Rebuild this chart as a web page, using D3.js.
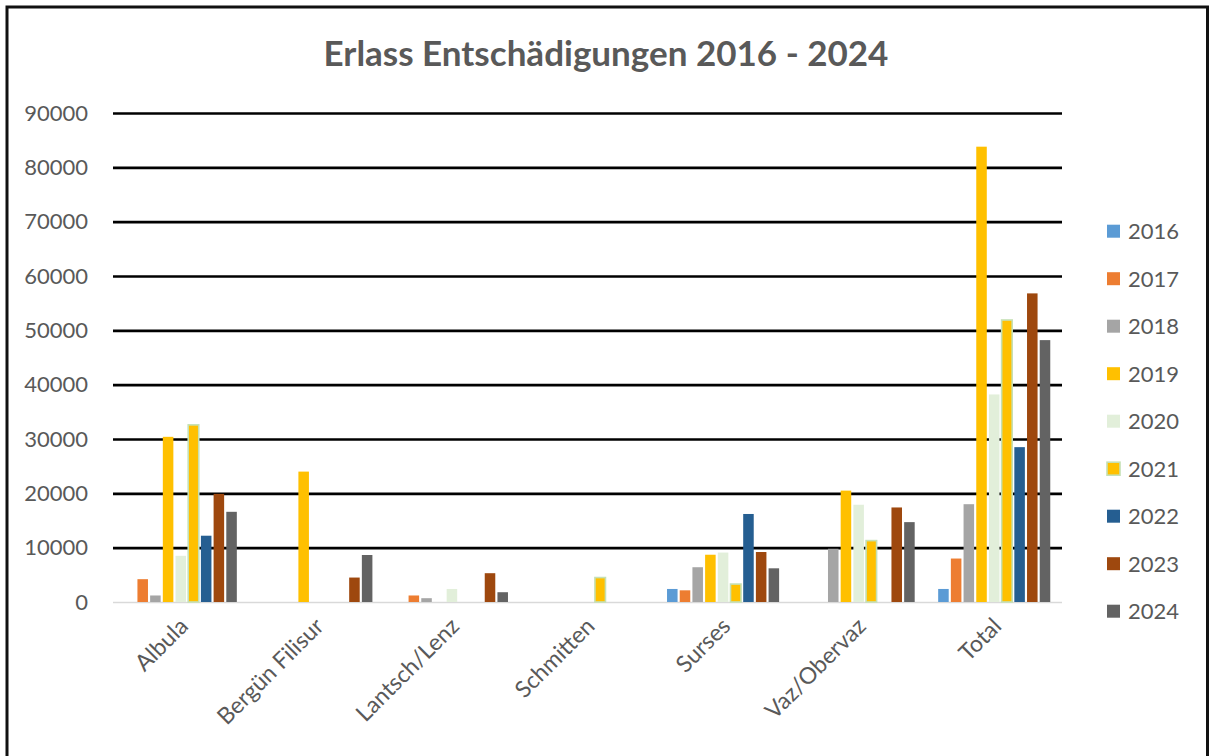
<!DOCTYPE html>
<html>
<head>
<meta charset="utf-8">
<script src="https://cdn.jsdelivr.net/npm/d3@7"></script>
<style>
  body { margin: 0; background: #fff; }
  svg { display: block; font-family: Lato, "Open Sans", sans-serif; }
</style>
</head>
<body>
<svg width="1212" height="756"></svg>
<script>
document.addEventListener("DOMContentLoaded", function() {

    var width = 1212;
    var height = 756;

    // categories on the x axis
    var categories = ["Albula", "Bergün Filisur", "Lantsch/Lenz", "Schmitten", "Surses", "Vaz/Obervaz", "Total"];

    var years = ["2016", "2017", "2018", "2019", "2020", "2021", "2022", "2023", "2024"];

    // one value per category
    var v2016 = [0, 0, 0, 0, 2400, 0, 2400];
    var v2017 = [4200, 0, 1200, 0, 2150, 0, 8000];
    var v2018 = [1200, 0, 700, 0, 6400, 9800, 18000];
    var v2019 = [30400, 24000, 0, 0, 8700, 20500, 83800];
    var v2020 = [8500, 0, 2400, 0, 9100, 17900, 38200];
    var v2021 = [32600, 0, 0, 4500, 3300, 11300, 51900];
    var v2022 = [12200, 0, 0, 0, 16200, 0, 28500];
    var v2023 = [19900, 4500, 5300, 0, 9200, 17400, 56800];
    var v2024 = [16600, 8650, 1800, 0, 6200, 14700, 48200];

    var series = [v2016, v2017, v2018, v2019, v2020, v2021, v2022, v2023, v2024];

    var yTicks = [0, 10000, 20000, 30000, 40000, 50000, 60000, 70000, 80000, 90000];

    var fills = ["#5B9BD5", "#ED7D31", "#A5A5A5", "#FFC000", "#E2EFDA", "#FFC000", "#255E91", "#9E480E", "#636363"];
    var strokes = [null, null, null, null, null, "#C5E0B4", null, null, null];

    var textColor = "#595959";

    var left = 113, right = 1062, top = 113, bottom = 602;

    var svg = d3.select("svg");

    // frame round the picture
    svg.append("rect")
        .attr("x", 7).attr("y", 7)
        .attr("width", 1200.5).attr("height", 780)
        .attr("fill", "none")
        .attr("stroke", "#111")
        .attr("stroke-width", 3);

    var x0 = d3.scaleBand()
        .domain(categories)
        .range([left, right]);

    var x1 = d3.scaleBand()
        .domain(years)
        .range([0, x0.bandwidth()])
        .paddingInner(0.17)
        .paddingOuter(0.925);

    var y = d3.scaleLinear()
        .domain([0, 90000])
        .range([bottom, top]);

    // y axis with gridlines
    var yAxis = svg.append("g")
        .attr("transform", `translate(${left},0)`)
        .call(d3.axisLeft(y)
            .tickValues(yTicks)
            .tickFormat(d3.format("d"))
            .tickSize(-(right - left))
            .tickPadding(25));

    yAxis.select(".domain").remove();
    yAxis.selectAll(".tick line")
        .attr("stroke", d => d === 0 ? "#D9D9D9" : "#000")
        .attr("stroke-width", d => d === 0 ? 1.5 : 2.6);
    yAxis.selectAll(".tick text")
        .attr("fill", textColor)
        .style("font-size", "22px")
        .style("font-family", "Lato, sans-serif");

    // bars
    var groups = svg.append("g")
      .selectAll("g")
      .data(categories)
      .enter()
      .append("g")
        .attr("transform", d => `translate(${x0(d)},0)`);

    groups.selectAll("rect")
      .data((c, ci) => years.map((yr, yi) => ({ year: yr, idx: yi, value: series[yi][ci] })))
      .enter()
      .filter(d => d.value > 0)
      .append("rect")
        .attr("x", d => x1(d.year))
        .attr("y", d => y(d.value))
        .attr("width", x1.bandwidth())
        .attr("height", d => bottom - y(d.value))
        .attr("fill", d => fills[d.idx])
        .attr("stroke", d => strokes[d.idx] || "none")
        .attr("stroke-width", 1.6);

    // x axis labels
    var xAxis = svg.append("g")
        .attr("transform", `translate(0,${bottom})`)
        .call(d3.axisBottom(x0).tickSize(0));

    xAxis.select(".domain").remove();
    xAxis.selectAll(".tick text")
        .attr("x", 0)
        .attr("y", 0)
        .attr("dy", "0.35em")
        .attr("text-anchor", "end")
        .attr("transform", "translate(3,20) rotate(-45)")
        .attr("fill", textColor)
        .style("font-size", "23px")
        .style("font-family", "Lato, sans-serif");

    // title
    svg.append("text")
        .attr("x", 606)
        .attr("y", 66)
        .attr("text-anchor", "middle")
        .attr("fill", textColor)
        .style("font-size", "35px")
        .style("font-weight", "bold")
        .text("Erlass Entschädigungen 2016 - 2024");

    // legend
    var legend = svg.append("g")
      .selectAll("g")
      .data(years)
      .enter()
      .append("g")
        .attr("transform", (d, i) => `translate(1107,${231.7 + i * 47.5})`);

    legend.append("rect")
        .attr("x", 0).attr("y", -7)
        .attr("width", 13).attr("height", 13)
        .attr("fill", (d, i) => fills[i])
        .attr("stroke", (d, i) => strokes[i] || "none")
        .attr("stroke-width", 1.6);

    legend.append("text")
        .attr("x", 21)
        .attr("y", 0)
        .attr("dy", "0.35em")
        .attr("fill", textColor)
        .style("font-size", "22px")
        .text(d => d);

});
</script>
</body>
</html>
